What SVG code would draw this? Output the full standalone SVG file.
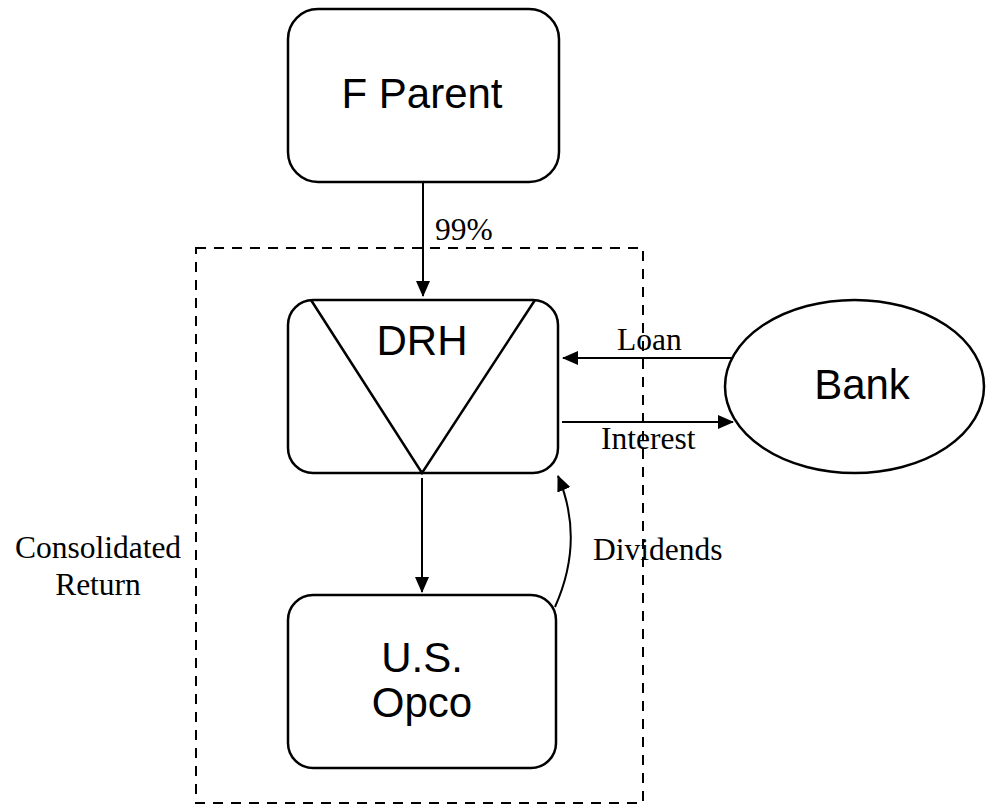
<svg xmlns="http://www.w3.org/2000/svg" width="986" height="806" viewBox="0 0 986 806">
  <style>
    .box { fill: #fff; stroke: #000; stroke-width: 2.5; }
    .line { fill: none; stroke: #000; stroke-width: 2.5; }
    .conn { fill: none; stroke: #000; stroke-width: 2; marker-end: url(#arrow); }
    .sans { font-family: "Liberation Sans", Arial, sans-serif; font-size: 42px; fill: #000; text-anchor: middle; }
    .serif { font-family: "Liberation Serif", "Times New Roman", serif; font-size: 31.5px; fill: #000; }
    .group { fill: none; stroke: #000; stroke-width: 2; stroke-dasharray: 10 8; }
  </style>
  <defs>
    <marker id="arrow" markerUnits="userSpaceOnUse" markerWidth="16" markerHeight="14" refX="15" refY="7" orient="auto">
      <path d="M0,0 L16,7 L0,14 Z" fill="#000"/>
    </marker>
  </defs>

  <!-- consolidated group boundary -->
  <rect class="group" x="196" y="248" width="447" height="555"/>
  <text class="serif" x="98" y="558" text-anchor="middle">Consolidated</text>
  <text class="serif" x="98" y="595" text-anchor="middle">Return</text>

  <g id="f-parent">
    <rect class="box" x="288" y="9" width="271" height="173" rx="30" ry="30"/>
    <text class="sans" x="422" y="108">F Parent</text>
  </g>

  <g id="drh">
    <rect class="box" x="288" y="300" width="270" height="173" rx="25" ry="25"/>
    <polyline class="line" points="311,300 422,473 535,300"/>
    <text class="sans" x="422" y="355">DRH</text>
  </g>

  <g id="us-opco">
    <rect class="box" x="288" y="595" width="268" height="173" rx="25" ry="25"/>
    <text class="sans" x="422" y="672">U.S.</text>
    <text class="sans" x="422" y="717">Opco</text>
  </g>

  <g id="bank">
    <ellipse class="box" cx="854.5" cy="386.5" rx="129.5" ry="86.5"/>
    <text class="sans" x="862" y="399">Bank</text>
  </g>

  <g id="connectors">
    <line class="conn" x1="423" y1="182" x2="423" y2="296"/>
    <text class="serif" x="435" y="240">99%</text>

    <line class="conn" x1="733" y1="358" x2="563" y2="358"/>
    <text class="serif" x="617" y="350">Loan</text>

    <line class="conn" x1="562" y1="422" x2="733" y2="422"/>
    <text class="serif" x="601" y="449">Interest</text>

    <line class="conn" x1="422" y1="478" x2="422" y2="592"/>

    <path class="conn" d="M555,607 Q585,540 558,476"/>
    <text class="serif" x="593" y="560">Dividends</text>
  </g>
</svg>
